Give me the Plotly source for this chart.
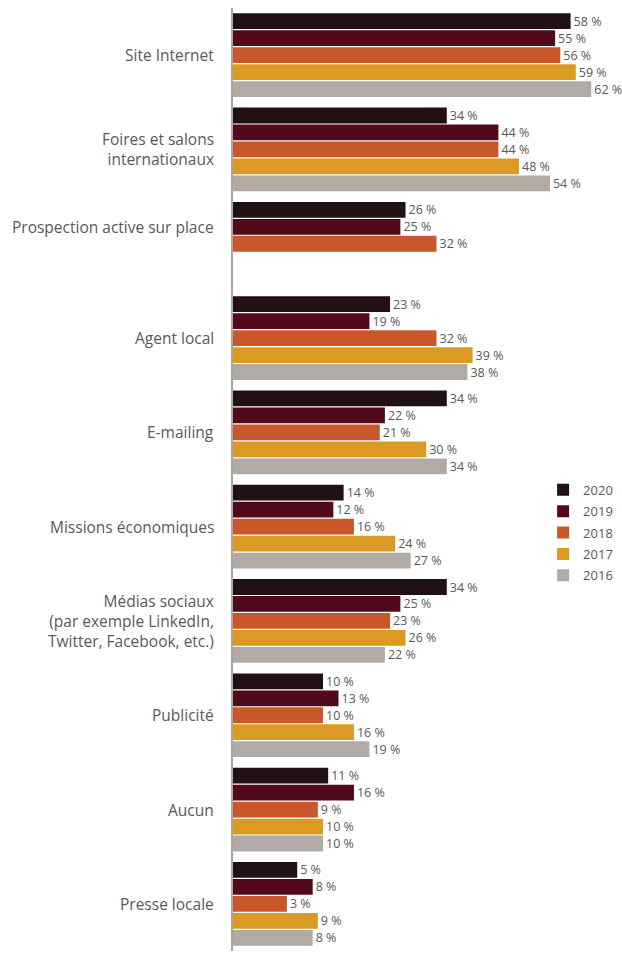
import plotly.graph_objects as go

# Canaux de prospection utilisés à l'international, part des entreprises (%)
categories = [
    "Site Internet",
    "Foires et salons<br>internationaux",
    "Prospection active sur place",
    "Agent local",
    "E-mailing",
    "Missions économiques",
    "Médias sociaux<br>(par exemple LinkedIn,<br>Twitter, Facebook, etc.)",
    "Publicité",
    "Aucun",
    "Presse locale",
]

years = ["2020", "2019", "2018", "2017", "2016"]

values_2020 = [58, 34, 26, 23, 34, 14, 34, 10, 11, 5]
values_2019 = [55, 44, 25, 19, 22, 12, 25, 13, 16, 8]
values_2018 = [56, 44, 32, 32, 21, 16, 23, 10, 9, 3]
values_2017 = [59, 48, None, 39, 30, 24, 26, 16, 10, 9]
values_2016 = [62, 54, None, 38, 34, 27, 22, 19, 10, 8]

series = [values_2020, values_2019, values_2018, values_2017, values_2016]
colors = ["#211014", "#520a1b", "#c9572a", "#db9a24", "#b2aaa4"]

# Bars start at the left edge of the value axis, which sits below zero
AXIS_FLOOR = -7.45
AXIS_CEIL = 63.7

TEXT_COLOR = "#595959"
FONT = "Open Sans"

fig = go.Figure()
for year, vals, color in zip(years, series, colors):
    fig.add_trace(go.Bar(
        orientation="h",
        name=year,
        legendgroup=year,
        y=categories,
        x=[None if v is None else v - AXIS_FLOOR for v in vals],
        base=AXIS_FLOOR,
        marker=dict(color=color, line=dict(width=0)),
        text=["" if v is None else f"{v} %" for v in vals],
        textposition="outside",
        textfont=dict(family=FONT, size=12.5, color=TEXT_COLOR),
        cliponaxis=False,
        constraintext="none",
        hovertemplate="%{y}: %{text}<extra>" + year + "</extra>",
    ))

# Category labels, centred on the bars that are present in each group
bar_pitch_px = 16.9
for i, cat in enumerate(categories):
    n_present = sum(1 for s in series if s[i] is not None)
    shift = (len(series) - n_present) / 2 * bar_pitch_px
    fig.add_annotation(
        x=0, xref="paper", xanchor="right", xshift=-17,
        y=cat, yref="y", yanchor="middle", yshift=shift,
        text=cat, showarrow=False, align="right",
        font=dict(family=FONT, size=15.5, color=TEXT_COLOR),
    )

fig.update_layout(
    width=622,
    height=953,
    margin=dict(l=233, r=22, t=8, b=2),
    paper_bgcolor="white",
    plot_bgcolor="white",
    barmode="group",
    bargap=0.10,
    bargroupgap=0.07,
    showlegend=True,
    legend=dict(
        x=0.845, y=0.505,
        xanchor="left", yanchor="top",
        font=dict(family=FONT, size=13, color=TEXT_COLOR),
        itemwidth=30,
        tracegroupgap=1.5,
        bgcolor="rgba(0,0,0,0)",
        traceorder="grouped",
    ),
    xaxis=dict(
        range=[AXIS_FLOOR, AXIS_CEIL],
        showgrid=False, zeroline=False, showticklabels=False, ticks="",
        showline=False, fixedrange=True,
    ),
    yaxis=dict(
        autorange="reversed",
        showgrid=False, zeroline=False, showticklabels=False, ticks="",
        showline=True, linecolor="#a6a6a6", linewidth=2,
        fixedrange=True,
    ),
)

fig.write_html("out.html")
